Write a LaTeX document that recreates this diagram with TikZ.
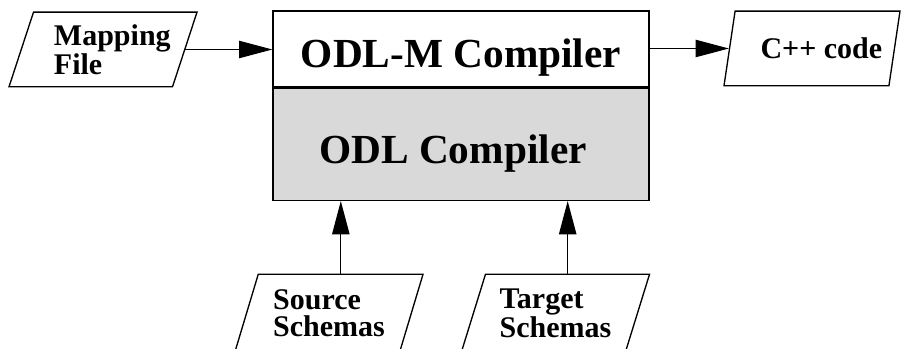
\documentclass[tikz,border=0pt]{standalone}
\usepackage{fontspec}
\setmainfont{Liberation Serif}
\usetikzlibrary{positioning,shapes.geometric,arrows.meta}
\definecolor{boxgray}{RGB}{217,217,217}
\tikzset{
  datafile/.style={draw, trapezium, trapezium left angle=65, trapezium right angle=115,
    trapezium stretches body, minimum width=141pt, minimum height=56pt, inner sep=1pt,
    align=left, font=\fontsize{22.5}{20.25}\selectfont\bfseries},
  compbox/.style={draw, minimum width=282pt, inner sep=0pt, text height=28.5pt, text depth=0pt,
    font=\fontsize{31}{34}\selectfont\bfseries},
  flow/.style={-{Triangle[length=25pt,width=13pt]}, line width=1pt}
}
\begin{document}
\begin{tikzpicture}[x=0.75pt,y=-0.75pt, line width=1pt]
  \useasboundingbox (0,0) rectangle (901,349);
  % compiler box
  \node[compbox, minimum height=57pt] (odlm) at (461,49) {ODL-M Compiler};
  \node[compbox, minimum height=84pt, fill=boxgray, below=0pt of odlm] (odl) {ODL Compiler\hspace*{12pt}};
  % input and output files
  \node[datafile] (map) at (103,49.5) {\hspace*{14pt}Mapping\\\hspace*{14pt}File};
  \node[datafile, minimum width=132pt] (cpp) at (812,48.5) {\hspace*{14pt}C++ code};
  \node[datafile, minimum height=58pt] (src) at (329,313) {Source\\Schemas};
  \node[datafile, minimum height=58pt] (tgt) at (555.5,313) {Target\\Schemas};
  % arrows
  \draw[flow] (map.right side) -- (map.right side -| odlm.west);
  \draw[flow] (odlm.east |- cpp.left side) -- (cpp.left side);
  \draw[flow] (src.top side) -- (src.top side |- odl.south);
  \draw[flow] (tgt.top side) -- (tgt.top side |- odl.south);
\end{tikzpicture}
\end{document}
